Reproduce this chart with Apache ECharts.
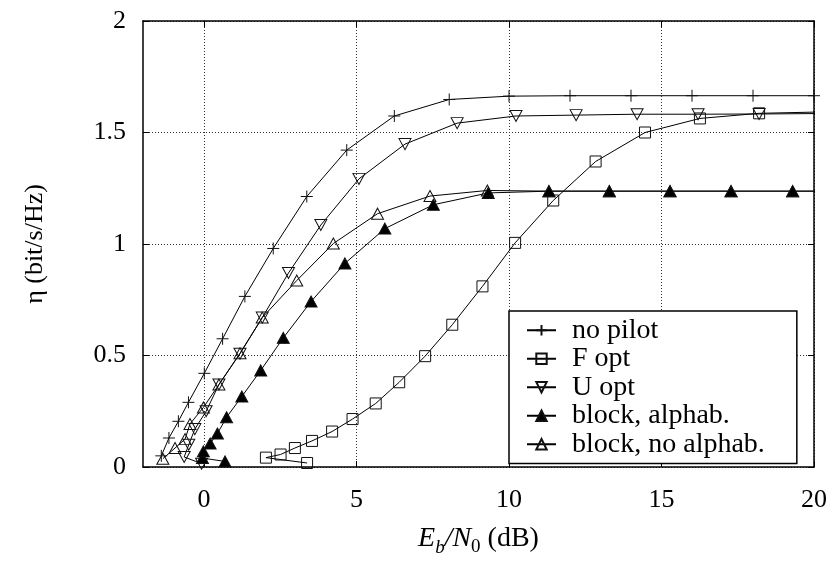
<!DOCTYPE html>
<html>
<head>
<meta charset="utf-8">
<script src="https://cdn.jsdelivr.net/npm/echarts@6/dist/echarts.min.js"></script>
<style>
  html, body { margin: 0; padding: 0; background: #fff; }
  #main { width: 837px; height: 562px; }
</style>
</head>
<body>
<div id="main"></div>
<script>
var myChart = echarts.init(document.getElementById('main'));

var FONT = 'Liberation Serif';

// x = Eb/N0 (dB), y = eta (bit/s/Hz)
var noPilotX = [-1.4, -1.15, -0.84, -0.51, 0.01, 0.61, 1.34, 2.27, 3.37, 4.68, 6.24, 8.04, 10, 12, 14, 16, 18, 20];
var noPilotY = [0.05, 0.13, 0.205, 0.29, 0.42, 0.575, 0.765, 0.98, 1.213, 1.421, 1.574, 1.648, 1.663, 1.665, 1.665, 1.665, 1.665, 1.665];

var fOptX = [3.38, 2.03, 2.51, 2.98, 3.54, 4.2, 4.87, 5.63, 6.4, 7.25, 8.14, 9.13, 10.2, 11.45, 12.84, 14.46, 16.26, 18.2, 20.2];
var fOptY = [0.018, 0.042, 0.056, 0.085, 0.117, 0.159, 0.215, 0.285, 0.38, 0.497, 0.638, 0.81, 1.005, 1.195, 1.37, 1.5, 1.563, 1.586, 1.592];

var uOptX = [-0.08, -0.65, -0.5, -0.3, 0.07, 0.49, 1.18, 1.91, 2.77, 3.83, 5.08, 6.59, 8.3, 10.23, 12.2, 14.2, 16.2, 18.2, 20.2];
var uOptY = [0.015, 0.045, 0.1, 0.17, 0.25, 0.37, 0.508, 0.67, 0.87, 1.085, 1.292, 1.448, 1.542, 1.574, 1.578, 1.582, 1.582, 1.583, 1.585];

var blockAlphX = [0.69, -0.05, -0.02, 0.2, 0.44, 0.74, 1.24, 1.86, 2.6, 3.51, 4.62, 5.93, 7.52, 9.32, 11.31, 13.29, 15.28, 17.28, 19.3, 21.3];
var blockAlphY = [0.025, 0.04, 0.07, 0.105, 0.15, 0.223, 0.316, 0.433, 0.579, 0.742, 0.913, 1.069, 1.176, 1.229, 1.237, 1.237, 1.237, 1.237, 1.237, 1.237];

var blockNoAlphX = [-1.35, -0.95, -0.62, -0.46, -0.02, 0.49, 1.18, 1.91, 3.04, 4.24, 5.69, 7.41, 9.29, 11.31, 13.29, 15.28, 17.28, 19.3, 21.3];
var blockNoAlphY = [0.037, 0.085, 0.125, 0.193, 0.267, 0.37, 0.51, 0.67, 0.836, 1.002, 1.136, 1.215, 1.24, 1.237, 1.237, 1.237, 1.237, 1.237, 1.237];

var xTicks = [0, 5, 10, 15, 20];
var names = ['no pilot', 'F opt', 'U opt', 'block, alphab.', 'block, no alphab.'];

function pairs(xs, ys) {
  return xs.map(function (x, i) { return [x, ys[i]]; });
}

function makeSeries(name, xs, ys, symbol, size, fill) {
  return {
    name: name,
    type: 'line',
    data: pairs(xs, ys),
    symbol: symbol,
    symbolSize: size,
    showAllSymbol: true,
    clip: true,
    lineStyle: { color: '#000', width: 1 },
    itemStyle: { color: fill, borderColor: '#111', borderWidth: 1 },
    emphasis: { disabled: true }
  };
}

var dotted = { show: true, lineStyle: { color: '#333', type: [1, 2], width: 1 } };
var frame = { show: true, onZero: false, lineStyle: { color: '#000', width: 1.5 } };
var tick = { show: true, inside: true, length: 6, lineStyle: { color: '#000' } };

var option = {
  animation: false,
  backgroundColor: '#fff',
  grid: { left: 143, top: 21, right: 23, bottom: 92, containLabel: false },
  legend: {
    orient: 'vertical',
    left: 509,
    top: 311,
    data: names,
    backgroundColor: '#fff',
    borderColor: '#000',
    borderWidth: 1.5,
    borderRadius: 0,
    padding: [5, 32, 5, 17],
    itemWidth: 29,
    itemHeight: 13,
    itemGap: 0,
    textStyle: { fontFamily: FONT, fontSize: 28, color: '#000', lineHeight: 28.5, padding: [0, 0, 0, 11] }
  },
  xAxis: [{
    type: 'value',
    min: -2, max: 20,
    position: 'bottom',
    axisLine: frame,
    axisTick: Object.assign({ customValues: xTicks }, tick),
    axisLabel: { customValues: xTicks, fontFamily: FONT, fontSize: 26, color: '#000', margin: 20 },
    splitLine: dotted,
    name: '{i|E}{si|b}{i|/N}{s|0}{r| (dB)}',
    nameLocation: 'middle',
    nameGap: 54,
    nameTextStyle: {
      rich: {
        i: { fontFamily: FONT, fontStyle: 'italic', fontSize: 28, lineHeight: 36, color: '#000' },
        si: { fontFamily: FONT, fontStyle: 'italic', fontSize: 19, lineHeight: 19, verticalAlign: 'bottom', color: '#000' },
        s: { fontFamily: FONT, fontSize: 19, lineHeight: 19, verticalAlign: 'bottom', color: '#000' },
        r: { fontFamily: FONT, fontSize: 28, lineHeight: 36, color: '#000' }
      }
    }
  }, {
    type: 'value',
    min: -2, max: 20,
    position: 'top',
    axisLine: frame,
    axisTick: Object.assign({ customValues: xTicks }, tick),
    axisLabel: { show: false },
    splitLine: { show: false }
  }],
  yAxis: [{
    type: 'value',
    min: 0, max: 2, interval: 0.5,
    position: 'left',
    axisLine: frame,
    axisTick: tick,
    axisLabel: { fontFamily: FONT, fontSize: 26, color: '#000', margin: 17 },
    splitLine: dotted,
    name: 'η (bit/s/Hz)',
    nameLocation: 'middle',
    nameGap: 95,
    nameRotate: 90,
    nameTextStyle: { fontFamily: FONT, fontSize: 26, color: '#000' }
  }, {
    type: 'value',
    min: 0, max: 2, interval: 0.5,
    position: 'right',
    axisLine: frame,
    axisTick: tick,
    axisLabel: { show: false },
    splitLine: { show: false }
  }],
  series: [
    makeSeries(names[0], noPilotX, noPilotY, 'path://M5,0L5,10M0,5L10,5', 12, 'rgba(0,0,0,0)'),
    makeSeries(names[1], fOptX, fOptY, 'rect', 11, 'rgba(0,0,0,0)'),
    makeSeries(names[2], uOptX, uOptY, 'path://M0,0L10,0L5,9Z', [12, 11], 'rgba(0,0,0,0)'),
    makeSeries(names[3], blockAlphX, blockAlphY, 'triangle', [12, 11], '#000'),
    makeSeries(names[4], blockNoAlphX, blockNoAlphY, 'triangle', [12, 11], 'rgba(0,0,0,0)')
  ]
};

myChart.setOption(option);
</script>
</body>
</html>
